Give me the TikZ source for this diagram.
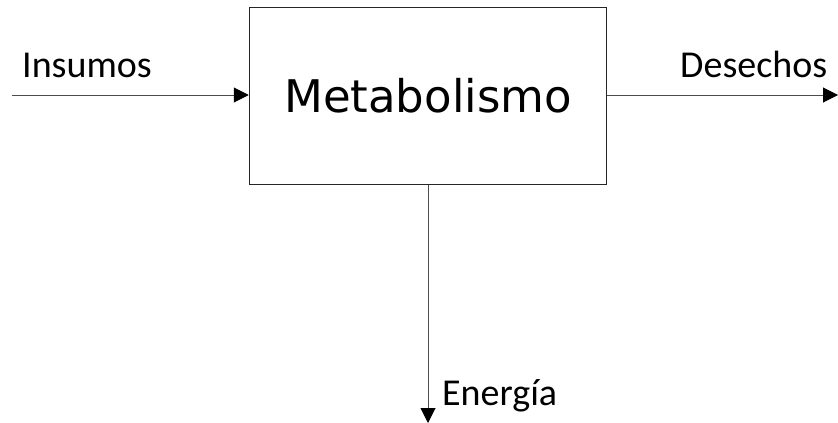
\documentclass[tikz,border=0pt]{standalone}
\usepackage{fontspec}
\setmainfont{Carlito}
\newfontfamily\boxfont{DejaVu Sans}
\usetikzlibrary{arrows.meta}
\begin{document}
\begin{tikzpicture}[x=1pt,y=-1pt,
  lbl/.style={inner sep=0pt,anchor=base west,font=\fontsize{38}{42}\selectfont},
  flow/.style={draw=black!70,line width=1pt,-{Triangle[length=15pt,width=15pt,color=black,fill=black]}},
  procbox/.style={draw=black!85,line width=1.5pt,minimum width=357pt,minimum height=177pt,inner sep=0pt,font=\boxfont\fontsize{45}{50}\selectfont}]
\useasboundingbox (0,0) rectangle (838,423);
\node[procbox] (box) at (428,96) {\raisebox{-2pt}{Metabolismo}};
\coordinate (in) at (12,95);
\coordinate (out) at (838,95);
\coordinate (en) at (428,423);
\draw[flow] (in) -- (in -| box.west);
\draw[flow] (box.east |- out) -- (out);
\draw[flow] (box.south) -- (en);
\node[lbl] (l1) at (22,77) {Insumos};
\node[lbl] (l2) at (680,77) {Desechos};
\node[lbl] (l3) at (442,405) {Energía};
\end{tikzpicture}
\end{document}
